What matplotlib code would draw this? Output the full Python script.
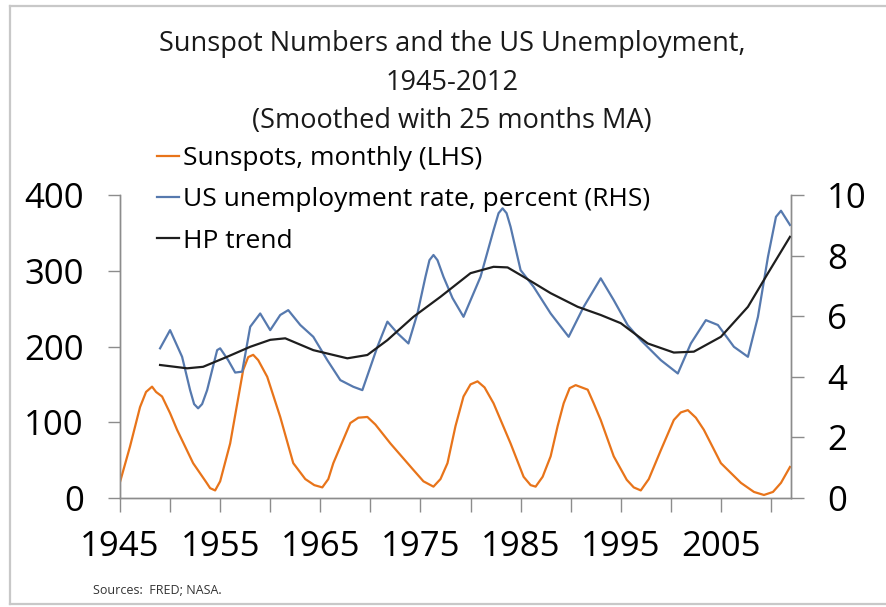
import matplotlib.pyplot as plt
from matplotlib.lines import Line2D
from matplotlib.ticker import MultipleLocator

# ---------- data ----------
sun_year = [1945.0, 1946.0, 1947.0, 1947.6, 1948.2, 1948.6, 1949.2, 1950.0, 1950.7,
            1952.3, 1953.6, 1954.0, 1954.5, 1955.0, 1955.3, 1956.0, 1957.3, 1957.8,
            1958.3, 1958.8, 1959.7, 1961.0, 1962.3, 1963.5, 1964.4, 1965.2, 1965.8,
            1966.3, 1968.0, 1968.8, 1969.7, 1970.5, 1972.0, 1974.3, 1975.3, 1976.3,
            1977.0, 1977.7, 1978.5, 1979.3, 1980.0, 1980.7, 1981.4, 1982.3, 1984.0,
            1985.3, 1986.0, 1986.5, 1987.2, 1988.0, 1988.7, 1989.3, 1989.9, 1990.5,
            1991.7, 1992.3, 1993.0, 1994.3, 1995.6, 1996.3, 1997.0, 1997.8, 1999.0,
            2000.3, 2001.0, 2001.7, 2002.5, 2003.3, 2005.0, 2007.0, 2008.3, 2009.3,
            2010.2, 2011.0, 2011.9]
sun_value = [21, 68, 120, 140, 147, 140, 134, 112, 90,
             46, 21, 13, 10, 22, 37, 72, 169, 186,
             189, 182, 160, 107, 46, 25, 17, 14, 25,
             46, 99, 106, 107, 97, 72, 37, 22, 15,
             25, 46, 95, 134, 150, 154, 146, 125, 72,
             28, 17, 15, 28, 55, 95, 125, 145, 149,
             143, 125, 103, 55, 24, 14, 10, 25, 63,
             103, 113, 116, 106, 90, 46, 20, 8, 4,
             8, 20, 41]

unemp_year = [1949.0, 1950.0, 1951.2, 1952.0, 1952.4, 1952.8, 1953.2, 1953.7, 1954.7,
              1955.0, 1955.8, 1956.5, 1957.2, 1958.0, 1959.0, 1960.0, 1961.0, 1961.8,
              1963.0, 1964.3, 1965.7, 1967.0, 1968.3, 1969.2, 1970.7, 1971.7, 1972.7,
              1973.8, 1974.7, 1975.5, 1975.9, 1976.3, 1976.7, 1977.3, 1978.2, 1979.3,
              1981.0, 1982.3, 1982.8, 1983.2, 1983.6, 1984.0, 1985.0, 1986.3, 1988.0,
              1989.8, 1991.3, 1993.0, 1994.3, 1995.7, 1997.0, 1999.0, 2000.7, 2002.0,
              2003.5, 2004.7, 2006.3, 2007.7, 2008.7, 2009.7, 2010.5, 2011.0, 2011.9]
unemp_value = [4.94, 5.54, 4.66, 3.56, 3.10, 2.96, 3.10, 3.56, 4.88,
               4.94, 4.55, 4.14, 4.17, 5.65, 6.09, 5.54, 6.04, 6.20,
               5.71, 5.32, 4.55, 3.89, 3.67, 3.56, 4.99, 5.82, 5.44,
               5.10, 6.09, 7.30, 7.85, 8.02, 7.85, 7.30, 6.60, 5.98,
               7.30, 8.84, 9.40, 9.56, 9.40, 8.95, 7.52, 6.97, 6.09,
               5.32, 6.31, 7.25, 6.53, 5.70, 5.21, 4.55, 4.11, 5.10,
               5.87, 5.71, 4.99, 4.66, 5.98, 7.96, 9.28, 9.48, 9.01]

hp_year = [1949.0, 1951.7, 1953.3, 1955.7, 1958.0, 1960.0, 1961.5, 1964.3, 1967.7,
           1969.7, 1971.7, 1974.3, 1977.0, 1980.0, 1982.3, 1983.7, 1985.3, 1988.0,
           1990.7, 1993.0, 1995.0, 1997.7, 2000.3, 2002.3, 2005.0, 2007.7, 2009.7,
           2011.9]
hp_value = [4.39, 4.28, 4.33, 4.66, 4.99, 5.22, 5.27, 4.88, 4.61,
            4.72, 5.21, 5.98, 6.64, 7.42, 7.63, 7.61, 7.30, 6.76,
            6.31, 6.04, 5.77, 5.10, 4.80, 4.83, 5.32, 6.31, 7.42,
            8.62]

year_ticks = [1945, 1955, 1965, 1975, 1985, 1995, 2005]

ORANGE = "#E8741A"
BLUE = "#5679AE"
BLACK = "#1E1E1E"
AXIS_GREY = "#8C8C8C"
LW = 1.6

plt.rcParams["font.family"] = ["Open Sans", "DejaVu Sans"]

fig = plt.figure(figsize=(8.86, 6.07), dpi=100)
fig.patch.set_facecolor("white")

ax = fig.add_axes([120 / 886, 1 - 498 / 607, (791 - 120) / 886, (498 - 195) / 607])
ax2 = ax.twinx()

ax.plot(sun_year, sun_value, color=ORANGE, linewidth=LW, label="Sunspots, monthly (LHS)")
ax2.plot(unemp_year, unemp_value, color=BLUE, linewidth=LW,
         label="US unemployment rate, percent (RHS)")
ax2.plot(hp_year, hp_value, color=BLACK, linewidth=LW, label="HP trend")

ax.set_xlim(1945, 2012)
ax.set_ylim(0, 400)
ax2.set_ylim(0, 10)
ax.set_yticks([0, 100, 200, 300, 400])
ax2.set_yticks([0, 2, 4, 6, 8, 10])
ax.set_xticks(year_ticks)
ax.xaxis.set_minor_locator(MultipleLocator(5))

for a in (ax, ax2):
    a.spines["top"].set_visible(False)
    for s in ("left", "right", "bottom"):
        a.spines[s].set_color(AXIS_GREY)
        a.spines[s].set_linewidth(1.0)
    a.patch.set_visible(False)

ax.tick_params(axis="y", direction="out", length=9, width=1, color=AXIS_GREY,
               labelsize=25, pad=17, labelcolor="black")
ax2.tick_params(axis="y", direction="out", length=9, width=1, color=AXIS_GREY,
                labelsize=25, pad=17, labelcolor="black")
ax.tick_params(axis="x", which="both", direction="out", length=10, width=1,
               color=AXIS_GREY, labelsize=25, pad=13, labelcolor="black")

# title
fig.text(452 / 886, 1 - 30 / 607,
         "Sunspot Numbers and the US Unemployment,\n1945-2012\n(Smoothed with 25 months MA)",
         ha="center", va="top", fontsize=19.5, linespacing=1.5, color="#1a1a1a")

# legend
handles = [
    Line2D([], [], color=ORANGE, linewidth=LW),
    Line2D([], [], color=BLUE, linewidth=LW),
    Line2D([], [], color=BLACK, linewidth=LW),
]
labels = ["Sunspots, monthly (LHS)", "US unemployment rate, percent (RHS)", "HP trend"]
fig.legend(handles, labels, loc="upper left", bbox_to_anchor=(157 / 886, 1 - 146 / 607),
           frameon=False, fontsize=19, handlelength=0.85, handletextpad=0.12,
           labelspacing=0.62, borderaxespad=0, borderpad=0)

fig.text(93 / 886, 1 - 590 / 607, "Sources:  FRED; NASA.", fontsize=9,
         ha="left", va="center", color="#333333")

# chart border (light grey)
for xs, ys in [((9.5 / 886, 9.5 / 886), (1 - 6 / 607, 1 - 604 / 607)),
               ((9.5 / 886, 1.0), (1 - 6 / 607, 1 - 6 / 607)),
               ((9.5 / 886, 1.0), (1 - 604 / 607, 1 - 604 / 607))]:
    fig.add_artist(Line2D(xs, ys, transform=fig.transFigure, color="#C8C8C8", linewidth=1.6))

fig.savefig("out.png", dpi=100, facecolor="white")
